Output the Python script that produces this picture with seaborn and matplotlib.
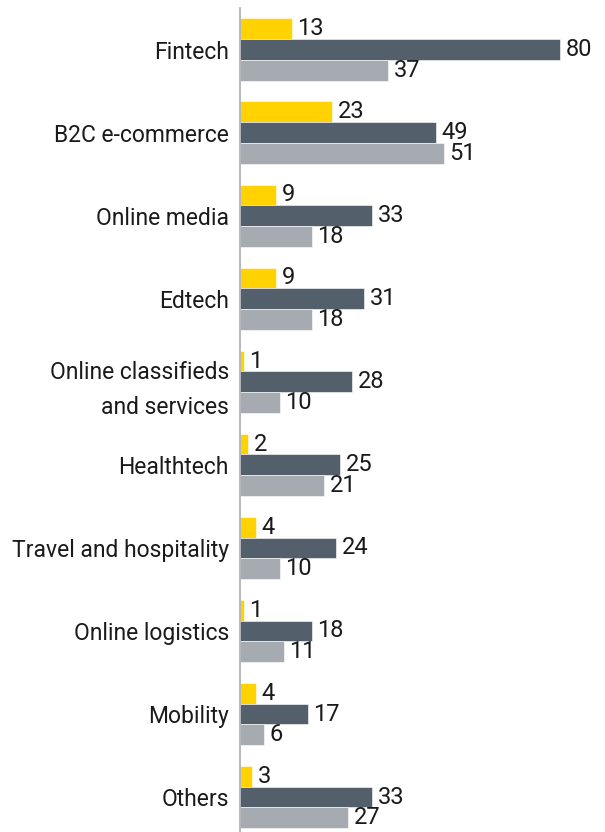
import matplotlib
matplotlib.use("Agg")
import matplotlib.pyplot as plt
import seaborn as sns
import pandas as pd

categories = ["Fintech", "B2C e-commerce", "Online media", "Edtech",
              "Online classifieds\nand services", "Healthtech",
              "Travel and hospitality", "Online logistics", "Mobility", "Others"]
series_names = ["A", "B", "C"]
values_a = [13, 23, 9, 9, 1, 2, 4, 1, 4, 3]
values_b = [80, 49, 33, 31, 28, 25, 24, 18, 17, 33]
values_c = [37, 51, 18, 18, 10, 21, 10, 11, 6, 27]
colors = ["#FFD200", "#535F6B", "#A5ABB1"]

rows = []
for name, vals in zip(series_names, [values_a, values_b, values_c]):
    for cat, v in zip(categories, vals):
        rows.append({"category": cat, "series": name, "value": v})
df = pd.DataFrame(rows)

sns.set_style("white")
plt.rcParams["font.family"] = ["Roboto", "DejaVu Sans"]

fig = plt.figure(figsize=(6.05, 8.32), dpi=100)
ax = fig.add_axes([240 / 605, 0, 365 / 605, 1 - 8 / 832])

sns.barplot(data=df, y="category", x="value", hue="series", order=categories,
            hue_order=series_names, palette=colors, saturation=1, orient="h",
            width=0.75, errorbar=None, legend=False, ax=ax,
            edgecolor="white", linewidth=0.4)

for container in ax.containers:
    ax.bar_label(container, padding=4, fontsize=17, color="#1a1a1a")

ax.set_xlim(0, 91.25)
ax.set_ylim(9.42, -0.5)
ax.set_xlabel("")
ax.set_ylabel("")
ax.set_xticks([])
ax.tick_params(axis="y", length=0, pad=8, labelsize=16.5, labelcolor="#1a1a1a")
for lbl in ax.get_yticklabels():
    lbl.set_linespacing(1.65)
for side in ["top", "right", "bottom"]:
    ax.spines[side].set_visible(False)
ax.spines["left"].set_color("#A8ADB3")
ax.spines["left"].set_linewidth(1.2)

fig.savefig("out.png", dpi=100)
